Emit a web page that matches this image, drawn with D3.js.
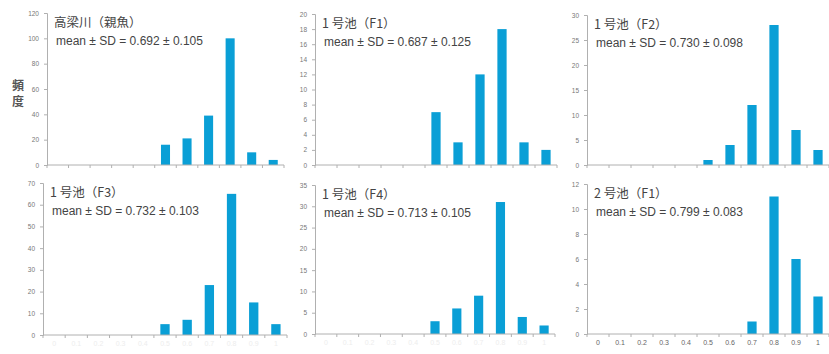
<!DOCTYPE html>
<html>
<head>
<meta charset="utf-8">
<script src="https://cdn.jsdelivr.net/npm/d3@7"></script>
<style>
    body { margin: 0; background: #fff; }
    svg { display: block; font-family: "Liberation Sans", "Noto Sans CJK JP", sans-serif; }
</style>
</head>
<body>
<svg id="chart" width="829" height="354"></svg>
<script>
// bins of the histogram (x categories)
const categories = ["0", "0.1", "0.2", "0.3", "0.4", "0.5", "0.6", "0.7", "0.8", "0.9", "1"];

const titles = ["高梁川（親魚）", "1 号池（F1）", "1 号池（F2）", "1 号池（F3）", "1 号池（F4）", "2 号池（F1）"];
const stats = ["0.692 ± 0.105", "0.687 ± 0.125", "0.730 ± 0.098", "0.732 ± 0.103", "0.713 ± 0.105", "0.799 ± 0.083"];

// frequency per bin
const countsTakahashi = [0, 0, 0, 0, 0, 16, 21, 39, 100, 10, 4];
const countsPond1F1 = [0, 0, 0, 0, 0, 7, 3, 12, 18, 3, 2];
const countsPond1F2 = [0, 0, 0, 0, 0, 1, 4, 12, 28, 7, 3];
const countsPond1F3 = [0, 0, 0, 0, 0, 5, 7, 23, 65, 15, 5];
const countsPond1F4 = [0, 0, 0, 0, 0, 3, 6, 9, 31, 4, 2];
const countsPond2F1 = [0, 0, 0, 0, 0, 0, 0, 1, 11, 6, 3];

const yMax = [120, 20, 30, 70, 35, 12];
const yStep = [20, 2, 5, 10, 5, 2];

const allCounts = [countsTakahashi, countsPond1F1, countsPond1F2, countsPond1F3, countsPond1F4, countsPond2F1];

// panel frames: left, right, top, bottom of the plot area, plus x-label colour
const frames = [
    {l: 47, r: 284, t: 13, b: 165, xlab: null},
    {l: 315, r: 557, t: 14, b: 165, xlab: null},
    {l: 587, r: 829, t: 15, b: 165, xlab: null},
    {l: 43, r: 287, t: 183, b: 335, xlab: "#ededed"},
    {l: 315, r: 555, t: 185, b: 334, xlab: "#ededed"},
    {l: 587, r: 829, t: 184, b: 334, xlab: "#666"}
];

const svg = d3.select("#chart");
const barColor = "#0a9fd6";
const axisColor = "#b0b0b0";

frames.forEach(function (f, i) {
    const g = svg.append("g");

    const x = d3.scaleBand()
        .domain(categories)
        .range([f.l, f.r])
        .paddingInner(0.58)
        .paddingOuter(0.29);

    const y = d3.scaleLinear()
        .domain([0, yMax[i]])
        .range([f.b, f.t]);

    // bars
    g.selectAll("rect")
        .data(allCounts[i].map(function (v, k) { return {c: categories[k], v: v}; }))
        .enter()
        .filter(function (d) { return d.v > 0; })
        .append("rect")
        .attr("x", function (d) { return x(d.c); })
        .attr("y", function (d) { return y(d.v); })
        .attr("width", x.bandwidth())
        .attr("height", function (d) { return f.b - y(d.v); })
        .attr("fill", barColor);

    // y axis
    const yAxis = g.append("g")
        .attr("transform", "translate(" + f.l + ",0)")
        .call(d3.axisLeft(y).tickValues(d3.range(0, yMax[i] + 0.001, yStep[i])).tickSize(3).tickPadding(5));
    yAxis.select(".domain").attr("stroke", axisColor);
    yAxis.selectAll(".tick line").attr("stroke", axisColor);
    yAxis.selectAll("text").attr("fill", "#777").style("font-size", "6.5px");

    // x axis: baseline with ticks at band boundaries
    g.append("line")
        .attr("x1", f.l).attr("x2", f.r)
        .attr("y1", f.b).attr("y2", f.b)
        .attr("stroke", axisColor);
    g.selectAll(".xtick")
        .data(d3.range(categories.length + 1))
        .enter()
        .append("line")
        .attr("class", "xtick")
        .attr("x1", function (k) { return f.l + k * (f.r - f.l) / categories.length; })
        .attr("x2", function (k) { return f.l + k * (f.r - f.l) / categories.length; })
        .attr("y1", f.b).attr("y2", f.b + 3)
        .attr("stroke", axisColor);

    if (f.xlab) {
        g.selectAll(".xlab")
            .data(categories)
            .enter()
            .append("text")
            .attr("class", "xlab")
            .attr("x", function (d) { return x(d) + x.bandwidth() / 2; })
            .attr("y", f.b + 11)
            .attr("text-anchor", "middle")
            .attr("fill", f.xlab)
            .style("font-size", "7px")
            .text(function (d) { return d; });
    }

    // panel title and statistics
    g.append("text")
        .attr("x", f.l + 7)
        .attr("y", f.t + 14)
        .attr("fill", "#444")
        .style("font-family", "'Noto Sans CJK JP', sans-serif")
        .style("font-size", "12.5px")
        .text(titles[i]);

    g.append("text")
        .attr("x", f.l + 9)
        .attr("y", f.t + 32)
        .attr("fill", "#444")
        .style("font-size", "12px")
        .text("mean ± SD = " + stats[i]);
});

// y-axis title
svg.append("text")
    .attr("x", 18)
    .attr("y", 90)
    .attr("text-anchor", "middle")
    .attr("fill", "#555")
    .style("font-family", "'Noto Sans CJK JP', sans-serif")
    .style("font-size", "12px")
    .style("font-weight", "bold")
    .selectAll("tspan")
    .data(["頻", "度"])
    .enter()
    .append("tspan")
    .attr("x", 18)
    .attr("dy", function (d, k) { return k === 0 ? 0 : "1.3em"; })
    .text(function (d) { return d; });
</script>
</body>
</html>
